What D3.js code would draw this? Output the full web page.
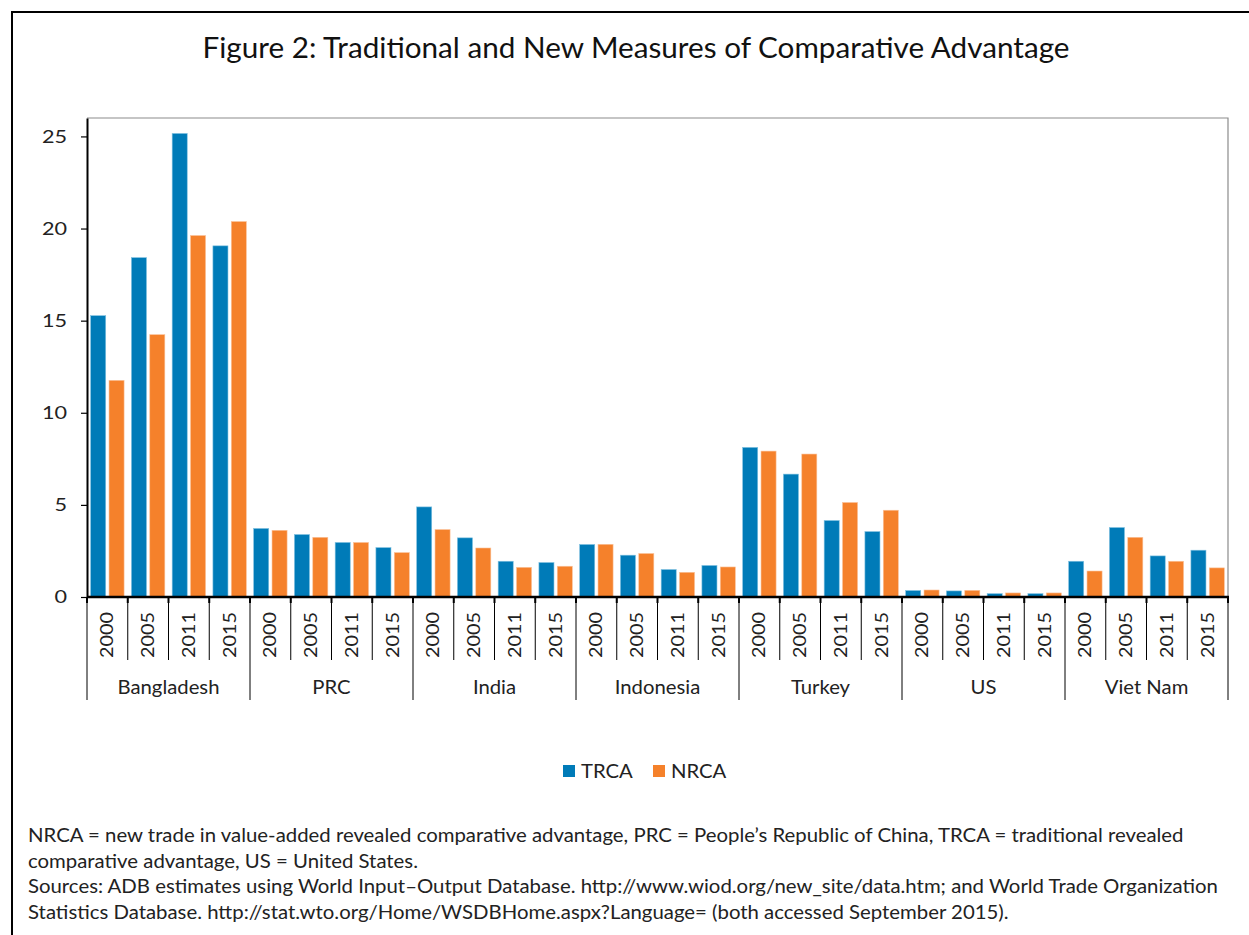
<!DOCTYPE html>
<html>
<head>
<meta charset="utf-8">
<script src="https://cdn.jsdelivr.net/npm/d3@7"></script>
<style>
  body { margin: 0; background: #fff; }
  svg { display: block; font-family: Lato, "Open Sans", sans-serif; }
</style>
</head>
<body>
<svg id="chart" width="1249" height="935"></svg>
<script>
// data
const countries = ["Bangladesh", "PRC", "India", "Indonesia", "Turkey", "US", "Viet Nam"];
const years = ["2000", "2005", "2011", "2015"];
const seriesNames = ["TRCA", "NRCA"];
const trca = [
    [15.27, 18.42, 25.16, 19.06],
    [3.72, 3.39, 2.96, 2.68],
    [4.89, 3.21, 1.94, 1.87],
    [2.85, 2.27, 1.49, 1.71],
    [8.12, 6.67, 4.15, 3.55],
    [0.35, 0.33, 0.18, 0.18],
    [1.94, 3.77, 2.23, 2.54]
];
const nrca = [
    [11.76, 14.24, 19.62, 20.38],
    [3.62, 3.24, 2.96, 2.41],
    [3.66, 2.66, 1.61, 1.67],
    [2.86, 2.36, 1.34, 1.63],
    [7.92, 7.76, 5.13, 4.71],
    [0.38, 0.36, 0.22, 0.22],
    [1.41, 3.24, 1.94, 1.58]
];
const yTicks = [0, 5, 10, 15, 20, 25];
const colors = { TRCA: "#007bb8", NRCA: "#f5812b" };

const svg = d3.select("#chart");

// stretch text a little - the original face is wider than Lato
function widen(sel, k) {
    sel.each(function () {
        const len = this.getComputedTextLength();
        d3.select(this).attr("textLength", len * k).attr("lengthAdjust", "spacingAndGlyphs");
    });
}

// outer frame
svg.append("rect")
    .attr("x", 12).attr("y", 12)
    .attr("width", 1260).attr("height", 960)
    .attr("fill", "none").attr("stroke", "#000").attr("stroke-width", 2);

svg.append("text")
    .attr("x", 636).attr("y", 58)
    .attr("text-anchor", "middle")
    .attr("font-size", "28px")
    .attr("fill", "#111")
    .attr("textLength", 867)
    .attr("lengthAdjust", "spacingAndGlyphs")
    .text("Figure 2: Traditional and New Measures of Comparative Advantage");

const plotLeft = 87, plotRight = 1228, plotTop = 118, plotBottom = 597;

const x0 = d3.scaleBand().domain(countries).range([plotLeft, plotRight]).padding(0);
const x1 = d3.scaleBand().domain(years).range([0, x0.bandwidth()]).padding(0);
const x2 = d3.scaleBand().domain(seriesNames).range([0, x1.bandwidth()])
    .paddingInner(0.18).paddingOuter(0.2);
const y = d3.scaleLinear().domain([0, 26]).range([plotBottom, plotTop]);

// plot frame (top + right in grey)
svg.append("path")
    .attr("d", `M${plotLeft},${plotTop}H${plotRight}V${plotBottom}`)
    .attr("fill", "none").attr("stroke", "#8c8c8c").attr("stroke-width", 1.2);

// bars
const rows = [];
countries.forEach((c, i) => {
    years.forEach((yr, j) => {
        rows.push({ country: c, year: yr, series: "TRCA", value: trca[i][j] });
        rows.push({ country: c, year: yr, series: "NRCA", value: nrca[i][j] });
    });
});

svg.append("g").selectAll("rect")
    .data(rows)
    .join("rect")
    .attr("x", d => x0(d.country) + x1(d.year) + x2(d.series))
    .attr("y", d => y(d.value))
    .attr("width", x2.bandwidth())
    .attr("height", d => y(0) - y(d.value))
    .attr("fill", d => colors[d.series])
    .attr("stroke", d => d.series === "TRCA" ? "#7fc0e0" : "#fbc29a")
    .attr("stroke-width", 0.6);

// y axis
const yAxis = svg.append("g")
    .attr("transform", `translate(${plotLeft},0)`)
    .call(d3.axisLeft(y).tickValues(yTicks).tickSize(6).tickSizeOuter(0).tickPadding(14));
yAxis.select(".domain").attr("stroke", "#000").attr("stroke-width", 2);
yAxis.selectAll(".tick line").attr("stroke", "#000").attr("stroke-width", 1.2);
yAxis.selectAll("text").attr("font-size", "18px").attr("fill", "#222")
    .attr("font-family", "Lato, sans-serif")
    .call(widen, 1.2);

// x axis: separators between years and countries
const xg = svg.append("g");
const bounds = [];
countries.forEach(c => {
    years.forEach(yr => bounds.push({ x: x0(c) + x1(yr), group: yr === years[0] }));
});
bounds.push({ x: plotRight, group: true });

xg.selectAll("line.sep")
    .data(bounds)
    .join("line")
    .attr("class", "sep")
    .attr("x1", d => d.x).attr("x2", d => d.x)
    .attr("y1", plotBottom).attr("y2", d => d.group ? 700 : 660)
    .attr("stroke", "#000").attr("stroke-width", 1);

xg.selectAll("line.tk")
    .data(bounds)
    .join("line")
    .attr("class", "tk")
    .attr("x1", d => d.x).attr("x2", d => d.x)
    .attr("y1", plotBottom).attr("y2", plotBottom + 6)
    .attr("stroke", "#000").attr("stroke-width", 2);

xg.append("line")
    .attr("x1", plotLeft).attr("x2", plotRight + 1)
    .attr("y1", plotBottom).attr("y2", plotBottom)
    .attr("stroke", "#000").attr("stroke-width", 2.5);

// year labels (rotated)
const yearLabels = [];
countries.forEach(c => years.forEach(yr => yearLabels.push({ c, yr })));
xg.selectAll("text.yr")
    .data(yearLabels)
    .join("text")
    .attr("class", "yr")
    .attr("transform", d => `translate(${x0(d.c) + x1(d.yr) + x1.bandwidth() / 2 + 6},612) rotate(-90)`)
    .attr("text-anchor", "end")
    .attr("font-size", "18px")
    .attr("fill", "#222")
    .text(d => d.yr)
    .call(widen, 1.1);

// country labels
xg.selectAll("text.ctry")
    .data(countries)
    .join("text")
    .attr("class", "ctry")
    .attr("x", d => x0(d) + x0.bandwidth() / 2)
    .attr("y", 694)
    .attr("text-anchor", "middle")
    .attr("font-size", "19.5px")
    .attr("fill", "#222")
    .text(d => d)
    .call(widen, 1.04);

// legend
const legend = svg.append("g");
const legendItems = [{ name: "TRCA", x: 563 }, { name: "NRCA", x: 653 }];
legend.selectAll("rect")
    .data(legendItems)
    .join("rect")
    .attr("x", d => d.x).attr("y", 765)
    .attr("width", 12).attr("height", 12)
    .attr("fill", d => colors[d.name]);
legend.selectAll("text")
    .data(legendItems)
    .join("text")
    .attr("x", d => d.x + 18).attr("y", 778)
    .attr("font-size", "19.5px")
    .attr("fill", "#222")
    .text(d => d.name)
    .call(widen, 1.04);

// notes
const notes = [
    "NRCA = new trade in value-added revealed comparative advantage, PRC = People\u2019s Republic of China, TRCA = traditional revealed",
    "comparative advantage, US = United States.",
    "Sources: ADB estimates using World Input\u2013Output Database. http://www.wiod.org/new_site/data.htm; and World Trade Organization",
    "Statistics Database. http://stat.wto.org/Home/WSDBHome.aspx?Language= (both accessed September 2015)."
];
svg.append("g").selectAll("text")
    .data(notes)
    .join("text")
    .attr("x", 28)
    .attr("y", (d, i) => 842 + i * 25.5)
    .attr("font-size", "18.5px")
    .attr("fill", "#222")
    .text(d => d)
    .call(widen, 1.1);
</script>
</body>
</html>
